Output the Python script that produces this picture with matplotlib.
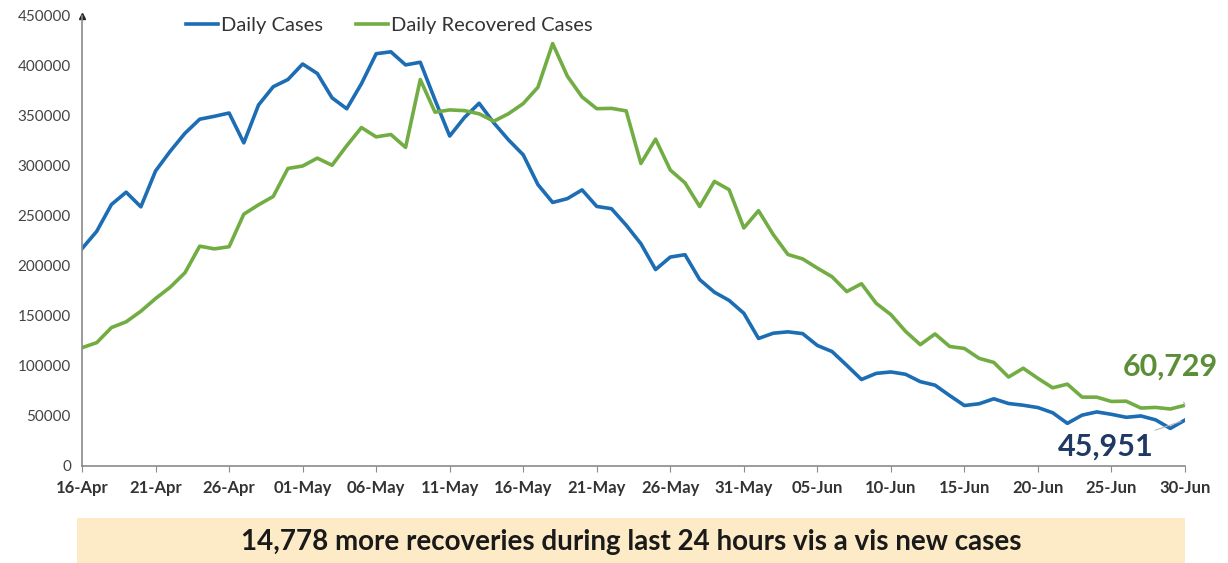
import matplotlib
matplotlib.use("Agg")
import matplotlib.pyplot as plt
from matplotlib.patches import Rectangle
import pandas as pd

# daily values, 16-Apr to 30-Jun
days = pd.date_range("2021-04-16", "2021-06-30", freq="D")

daily_cases = [
    217353, 234692, 261500, 273810, 259170, 295041, 314835, 332730, 346786, 349691,
    352991, 323144, 360960, 379257, 386452, 401993, 392488, 368147, 357229, 382315,
    412262, 414188, 401078, 403738, 366161, 329942, 348421, 362727, 343144, 326098,
    311170, 281386, 263533, 267334, 276110, 259551, 257299, 240842, 222315, 196427,
    208921, 211298, 186364, 173790, 165553, 152734, 127510, 132788, 134154, 132364,
    120529, 114460, 100636, 86498, 92596, 94052, 91702, 84332, 80834, 70421,
    60471, 62224, 67208, 62480, 60753, 58419, 53256, 42640, 50848, 54069,
    51667, 48698, 50040, 46148, 37566, 45951,
]

daily_recovered = [
    118302, 123354, 138423, 144178, 154761, 167457, 178841, 193279, 219838, 217113,
    219272, 251827, 261162, 269507, 297540, 299988, 307865, 300732, 320289, 338439,
    329113, 331507, 318609, 386444, 353818, 356082, 355338, 352181, 344776, 352299,
    362437, 378741, 422436, 389851, 369077, 357295, 357630, 355102, 302544, 326850,
    295955, 283135, 259459, 284601, 276309, 238022, 255287, 231456, 211499, 207071,
    197894, 189232, 174399, 182282, 162664, 151367, 134580, 121311, 132062, 119501,
    117525, 107628, 103570, 88977, 97743, 87619, 78190, 81839, 68885, 68817,
    64527, 64818, 57944, 58578, 56994, 60729,
]

y_ticks = list(range(0, 450001, 50000))
note = "14,778 more recoveries during last 24 hours vis a vis new cases"

blue = "#1c6db4"
green = "#72ad44"

plt.rcParams["font.family"] = ["Lato", "DejaVu Sans"]

fig = plt.figure(figsize=(12.28, 5.63), dpi=100)
ax = fig.add_axes([0.0668, 0.1723, 0.8982, 0.7993])

ax.plot(days, daily_cases, color=blue, lw=2.6, label="Daily Cases", solid_joinstyle="round")
ax.plot(days, daily_recovered, color=green, lw=2.6, label="Daily Recovered Cases", solid_joinstyle="round")

ax.set_xlim(days[0], days[-1])
ax.set_ylim(0, 450000)
ax.set_yticks(y_ticks)
ax.set_yticklabels([str(v) for v in y_ticks])
ax.set_xticks(days[::5])
ax.set_xticklabels([d.strftime("%d-%b") for d in days[::5]], fontweight="bold")

for s in ["top", "right"]:
    ax.spines[s].set_visible(False)
for s in ["left", "bottom"]:
    ax.spines[s].set_color("#8a8a8a")
    ax.spines[s].set_linewidth(1.2)
ax.tick_params(axis="y", length=0, labelsize=11, labelcolor="#444444", pad=8)
ax.tick_params(axis="x", length=4, color="#8a8a8a", labelsize=12, labelcolor="#333333", pad=6)

# arrow head on y axis
ax.plot([0], [1.0], marker="^", color="#222222", markersize=5, transform=ax.transAxes, clip_on=False)

leg = ax.legend(loc="center", bbox_to_anchor=(0.317, 0.955), bbox_transform=fig.transFigure,
                ncol=2, frameon=False, fontsize=14.5, handlelength=1.6, handletextpad=0.15,
                columnspacing=1.6)
for t in leg.get_texts():
    t.set_color("#333333")

# end labels
ax.annotate("60,729", xy=(days[-1], daily_recovered[-1]), xytext=(1170, 196),
            textcoords="figure pixels", fontsize=22, fontweight="bold", color="#5c8d38",
            ha="center", va="center",
            arrowprops=dict(arrowstyle="-", color="#b8b8b8", lw=0.8, shrinkA=14, shrinkB=3))
ax.annotate("45,951", xy=(days[-1], daily_cases[-1]), xytext=(1106, 116),
            textcoords="figure pixels", fontsize=22, fontweight="bold", color="#1f3864",
            ha="center", va="center",
            arrowprops=dict(arrowstyle="-", color="#b8b8b8", lw=0.8, shrinkA=50, shrinkB=3))

# banner below the chart
fig.patches.append(Rectangle((0.0627, 0.0), 0.9023, 0.08, transform=fig.transFigure,
                             facecolor="#fcebc6", edgecolor="none", zorder=0))
fig.text(0.514, 0.037, note, ha="center", va="center", fontsize=20,
         fontweight="bold", color="#1a1a1a")

fig.savefig("out.png", dpi=100)
